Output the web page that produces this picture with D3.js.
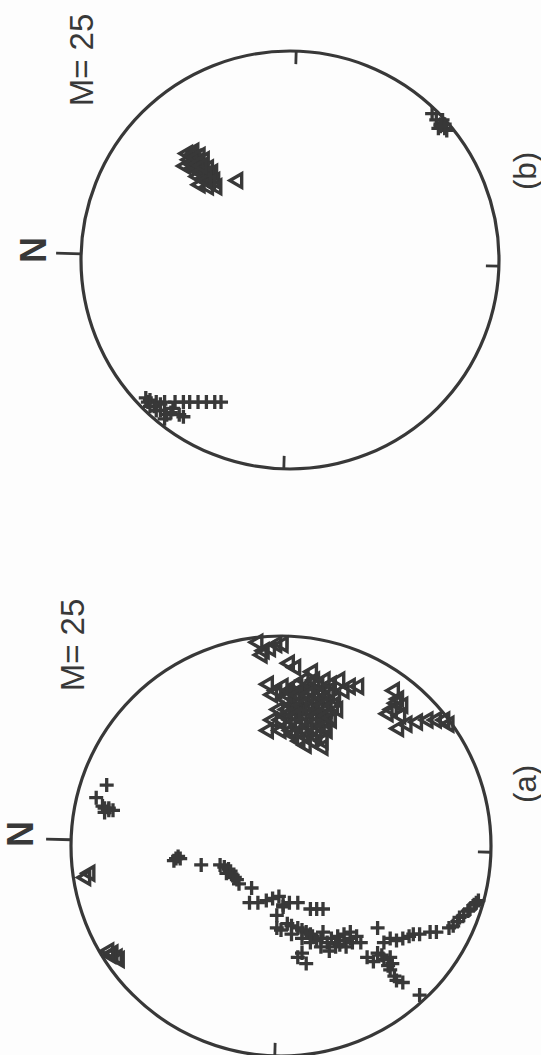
<!DOCTYPE html>
<html><head><meta charset="utf-8">
<script src="https://cdn.jsdelivr.net/npm/d3@7"></script>
<style>html,body{margin:0;padding:0;background:#fdfdfd;} svg{display:block;}</style>
</head><body>
<svg id="chart" width="541" height="1055"></svg>
<script>
// Stereonet data: [east, north] in percent of the primitive radius (unrotated frame, N up)
const panelNames = ["(b)", "(a)"];
const countLabel = "M= 25";
const northLabel = "N";
const tickAzimuths = [0, 90, 180, 270];

// panel (b)
const bTriangles = [
  [51,49],[52,46],[50,43],[48,48],[47,44],[48,41],[45,50],[44,46],[43,42],[44,39],
  [40,38],[39,41],[38,36],[36,43],[35,39],[35,35],[42,37],[40,44],[38,25],
  [50,47],[46,47],[49,45],[41,40],[37,38],[46,44],[42,43],[38,40],[45,42]
];
const bCrosses = [
  [70,-68],[67,-70],[65,-72],[63,-74],[62,-75],[63,-71],[67,-73],[65,-74],[64,-72],
  [-68,68],[-68,64],[-68,60],[-68,55],[-68,51],[-68,48],[-68,44],[-68,40],[-68,36],[-68,33],
  [-66,69],[-70,65],[-72,62],[-74,59],[-71,56],[-74,53],[-75,51],[-76,60],[-67,67],
  [-70,67],[-72,64],[-73,57],[-69,62]
];

// panel (a)
const aTriangles = [
  [97,11],[91,9],[94,5],[96,2],[96,-1],[87,-4],[85,-7],[93,8],
  [79,-11],[79,-16],[79,-21],[79,-28],
  [74,-4],[74,-9],[74,-14],[74,-19],[74,-23],[74,-30],
  [70,-2],[70,-7],[70,-11],[70,-16],[70,-21],[70,-26],
  [65,1],[65,-3],[65,-8],[65,-13],[65,-18],[65,-22],[65,-27],
  [60,4],[60,0],[60,-5],[60,-10],[60,-15],[60,-20],[60,-24],
  [55,6],[55,0],[55,-5],[55,-11],[55,-17],[55,-22],
  [50,-9],[50,-15],[50,-20],
  [67,-5],[67,-15],[62,-2],[62,-12],[57,-8],[57,-18],[72,-18],[77,-14],
  [77,-8],[77,-18],[77,-24],[72,-3],[72,-8],[72,-13],[72,-23],[67,-10],[67,-20],[67,-25],
  [62,-7],[62,-17],[62,-22],[57,-3],[57,-13],[57,-21],[52,-12],[52,-17],[53,-6],
  [77,6],[74,2],[76,-1],[72,4],
  [83,-15],[76,-33],[76,-37],[61,-24],[48,-12],[47,-20],
  [74,-54],[70,-56],[65,-53],[67,-58],[62,-57],[63,-51],[68,-55],
  [56,-56],[58,-60],[59,-65],[60,-70],[60,-74],[60,-78],[58,-80],
  [-15,93],[-13,91],
  [-51,80],[-53,78],[-54,77],[-52,81],[-50,82]
];
const aCrosses = [
  [29,83],[23,88],[19,85],[18,82],[16,84],[17,80],[18,84],[17,82],
  [-6,50],[-5,49],[-7,51],[-6,48],
  [-9,38],[-9,29],[-11,25],[-15,22],[-18,20],[-10,27],[-12,24],[-14,23],[-16,21],[-13,26],
  [-20,14],[-27,11],[-27,15],[-26,7],[-24,1],[-27,-4],[-29,-1],[-33,2],[-27,-8],[-25,4],[-28,-1],
  [-30,-14],[-30,-17],[-30,-20],
  [-39,2],[-37,-3],[-39,-8],[-41,-12],[-45,-17],[-46,-22],[-41,-20],[-43,-27],[-50,-23],
  [-41,-33],[-43,-36],[-48,-31],[-46,-38],[-47,-28],[-43,-15],
  [-40,0],[-38,-5],[-42,-5],[-40,-10],[-44,-10],[-42,-14],[-46,-14],[-44,-19],[-48,-19],
  [-44,-24],[-48,-26],[-45,-30],[-42,-30],[-44,-33],[-46,-34],
  [-39,-46],
  [-53,-41],[-51,-46],[-54,-49],[-53,-52],[-56,-53],[-59,-52],[-64,-55],[-65,-58],
  [-55,-44],[-52,-48],[-57,-51],[-62,-54],
  [-53,-8],[-56,-12],[-51,-10],
  [-46,-49],[-45,-55],[-43,-61],[-42,-66],[-41,-71],[-41,-74],[-44,-52],[-44,-58],[-42,-63],
  [-38,-82],[-34,-85],[-31,-89],[-28,-92],[-26,-94],[-36,-84],[-33,-87],[-30,-90],[-27,-93],[-39,-80],
  [-71,-66]
];

const panels = [
  {name: panelNames[0], cx: 290, cy: 260, r: 209, tri: bTriangles, cross: bCrosses,
   nOff: [-257,-10], mOff: [-209,-200], pOff: [235,-89]},
  {name: panelNames[1], cx: 281, cy: 846, r: 210, tri: aTriangles, cross: aCrosses,
   nOff: [-261,-12], mOff: [-209,-201], pOff: [244,-62]}
];

const ink = "#383838";
const skew = 1.7; // scan skew in degrees
const svg = d3.select("#chart");

panels.forEach(p => {
  const x = d3.scaleLinear().domain([-100,100]).range([-p.r, p.r]);
  const y = d3.scaleLinear().domain([-100,100]).range([p.r, -p.r]);
  const g = svg.append("g").attr("transform", `translate(${p.cx},${p.cy}) rotate(-90)`);

  g.append("circle").attr("r", p.r).attr("fill", "none").attr("stroke", ink).attr("stroke-width", 3.2);

  tickAzimuths.forEach(az => {
    const a = (az + skew) * Math.PI / 180;
    const r0 = az === 0 ? p.r : p.r - 13;
    const r1 = az === 0 ? p.r + 25 : p.r;
    g.append("line")
      .attr("x1", r0 * Math.sin(a)).attr("y1", -r0 * Math.cos(a))
      .attr("x2", r1 * Math.sin(a)).attr("y2", -r1 * Math.cos(a))
      .attr("stroke", ink).attr("stroke-width", 2.8);
  });

  const tri = d3.symbol().type(d3.symbolTriangle).size(80);
  g.selectAll("path.tri").data(p.tri).join("path").attr("class","tri")
    .attr("d", tri)
    .attr("transform", d => `translate(${x(d[0])},${y(d[1])})`)
    .attr("fill", "none").attr("stroke", ink).attr("stroke-width", 3.4)
    .attr("stroke-linejoin", "miter");

  const h = 7;
  g.selectAll("path.cross").data(p.cross).join("path").attr("class","cross")
    .attr("d", `M${-h},0H${h}M0,${-h}V${h}`)
    .attr("transform", d => `translate(${x(d[0])},${y(d[1])})`)
    .attr("fill", "none").attr("stroke", ink).attr("stroke-width", 3.3);

  const label = (txt, off, size, weight) => svg.append("text")
    .attr("transform", `translate(${p.cx + off[0]},${p.cy + off[1]}) rotate(-90)`)
    .attr("text-anchor", "middle").attr("dominant-baseline", "central")
    .attr("font-family", "Liberation Sans, Arial, sans-serif")
    .attr("font-size", size).attr("font-weight", weight)
    .attr("fill", ink).text(txt);

  label(northLabel, p.nOff, 36, "bold");
  label(countLabel, p.mOff, 33, "normal");
  label(p.name, p.pOff, 31, "normal");
});
</script>
</body></html>
